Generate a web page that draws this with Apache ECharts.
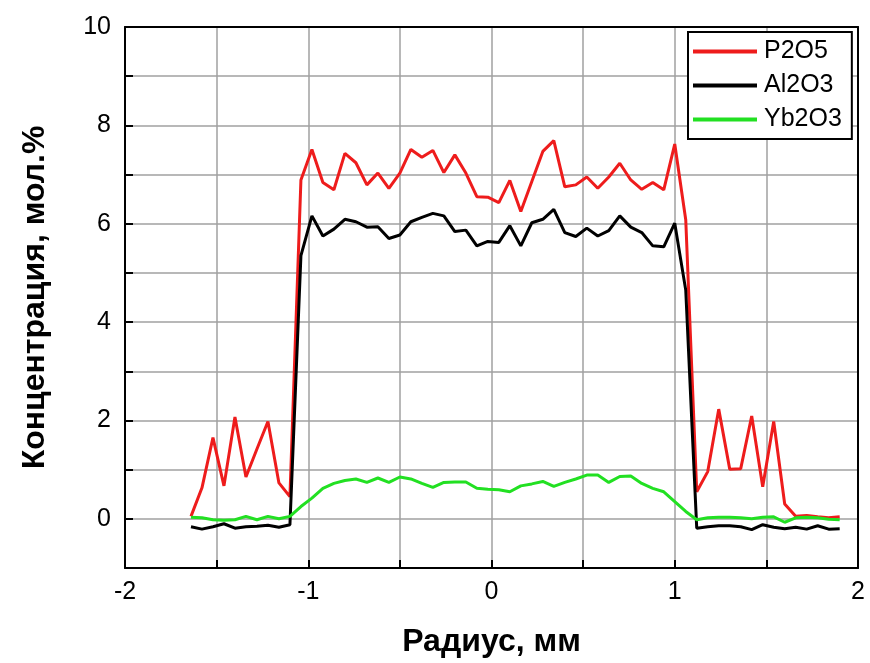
<!DOCTYPE html>
<html>
<head>
<meta charset="utf-8">
<title>Концентрация по радиусу</title>
<script src="https://cdn.jsdelivr.net/npm/echarts@6/dist/echarts.min.js"></script>
<style>
  html, body { margin: 0; padding: 0; background: #fff; }
  #chart { width: 870px; height: 663px; }
</style>
</head>
<body>
<div id="chart"></div>
<script>
// Radial positions of the measurement points, mm
const radius = [
  -1.64, -1.58, -1.52, -1.46, -1.40, -1.34, -1.28, -1.22, -1.16, -1.10,
  -1.04, -0.98, -0.92, -0.86, -0.80, -0.74, -0.68, -0.62, -0.56, -0.50,
  -0.44, -0.38, -0.32, -0.26, -0.20, -0.14, -0.08, -0.02, 0.04, 0.10,
  0.16, 0.22, 0.28, 0.34, 0.40, 0.46, 0.52, 0.58, 0.64, 0.70,
  0.76, 0.82, 0.88, 0.94, 1.00, 1.06, 1.12, 1.18, 1.24, 1.30,
  1.36, 1.42, 1.48, 1.54, 1.60, 1.66, 1.72, 1.78, 1.84, 1.90
];

// Concentrations, mol.%
const p2o5 = [
  0.05, 0.63, 1.65, 0.67, 2.07, 0.85, 1.42, 1.98, 0.73, 0.45,
  6.89, 7.51, 6.84, 6.69, 7.43, 7.24, 6.79, 7.03, 6.72, 7.03,
  7.51, 7.35, 7.49, 7.04, 7.40, 7.03, 6.55, 6.54, 6.43, 6.88,
  6.25, 6.86, 7.47, 7.69, 6.75, 6.79, 6.95, 6.72, 6.95, 7.23,
  6.89, 6.70, 6.84, 6.69, 7.62, 6.08, 0.55, 0.96, 2.23, 1.01,
  1.02, 2.09, 0.65, 1.98, 0.30, 0.05, 0.07, 0.04, 0.02, 0.04
];

const al2o3 = [
  -0.16, -0.21, -0.16, -0.10, -0.19, -0.16, -0.15, -0.13, -0.17, -0.12,
  5.35, 6.16, 5.75, 5.89, 6.09, 6.04, 5.93, 5.94, 5.70, 5.77,
  6.04, 6.13, 6.21, 6.16, 5.84, 5.87, 5.55, 5.64, 5.62, 5.96,
  5.55, 6.02, 6.09, 6.29, 5.82, 5.74, 5.91, 5.75, 5.86, 6.16,
  5.93, 5.82, 5.55, 5.53, 6.01, 4.65, -0.19, -0.16, -0.14, -0.14,
  -0.16, -0.22, -0.12, -0.17, -0.20, -0.17, -0.21, -0.14, -0.21, -0.20
];

const yb2o3 = [
  0.03, 0.02, -0.02, -0.03, -0.02, 0.05, -0.02, 0.05, 0.00, 0.05,
  0.25, 0.42, 0.62, 0.72, 0.78, 0.81, 0.74, 0.83, 0.74, 0.85,
  0.81, 0.72, 0.64, 0.74, 0.75, 0.75, 0.62, 0.60, 0.59, 0.55,
  0.67, 0.71, 0.76, 0.66, 0.74, 0.81, 0.89, 0.89, 0.74, 0.86,
  0.87, 0.72, 0.62, 0.55, 0.35, 0.15, -0.02, 0.02, 0.03, 0.03,
  0.02, 0.00, 0.03, 0.04, -0.07, 0.02, 0.03, 0.02, -0.01, -0.02
];

const seriesNames = ['P2O5', 'Al2O3', 'Yb2O3'];
const seriesColors = ['#ee1c1c', '#000000', '#22e022'];
const seriesValues = [p2o5, al2o3, yb2o3];

const FONT = '"Liberation Sans", Arial, Helvetica, sans-serif';

const chart = echarts.init(document.getElementById('chart'), null, { renderer: 'canvas' });

// Box frame: axis lines stay on the plot edges instead of crossing at zero
const frameLine = { show: true, onZero: false, lineStyle: { color: '#000', width: 2 } };
const gridLine = { show: true, lineStyle: { color: '#a0a0a0', width: 1.5 } };
const inTick = { show: true, inside: true, length: 8, lineStyle: { color: '#000', width: 2 } };

const option = {
  backgroundColor: '#fff',
  animation: false,
  grid: { left: 125, right: 12, top: 27, bottom: 95, containLabel: false },
  legend: {
    orient: 'vertical',
    left: 688,
    top: 32,
    data: seriesNames,
    icon: 'rect',
    itemWidth: 64,
    itemHeight: 4,
    itemGap: 9,
    padding: [7, 10, 7, 5],
    borderColor: '#000',
    borderWidth: 2,
    backgroundColor: '#fff',
    textStyle: { fontFamily: FONT, fontSize: 25, color: '#000', padding: [0, 0, 0, 2] }
  },
  xAxis: [
    {
      type: 'value',
      min: -2,
      max: 2,
      interval: 0.5,
      name: 'Радиус, мм',
      nameLocation: 'middle',
      nameGap: 58,
      nameTextStyle: { fontFamily: FONT, fontSize: 32, fontWeight: 'bold', color: '#000' },
      axisLine: frameLine,
      axisTick: inTick,
      splitLine: gridLine,
      axisLabel: {
        margin: 12,
        fontFamily: FONT,
        fontSize: 25,
        color: '#000',
        formatter: v => (Number.isInteger(v) ? String(v) : '')
      }
    },
    {
      type: 'value',
      position: 'top',
      min: -2,
      max: 2,
      axisLine: frameLine,
      axisTick: { show: false },
      axisLabel: { show: false },
      splitLine: { show: false }
    }
  ],
  yAxis: [
    {
      type: 'value',
      min: -1,
      max: 10,
      interval: 1,
      name: 'Концентрация, мол.%',
      nameLocation: 'middle',
      nameGap: 74,
      nameTextStyle: { fontFamily: FONT, fontSize: 32, fontWeight: 'bold', color: '#000' },
      axisLine: frameLine,
      axisTick: inTick,
      splitLine: gridLine,
      axisLabel: {
        margin: 14,
        fontFamily: FONT,
        fontSize: 25,
        color: '#000',
        formatter: v => (v >= 0 && v % 2 === 0 ? String(v) : '')
      }
    },
    {
      type: 'value',
      position: 'right',
      min: -1,
      max: 10,
      axisLine: frameLine,
      axisTick: { show: false },
      axisLabel: { show: false },
      splitLine: { show: false }
    }
  ],
  series: seriesNames.map((name, k) => ({
    name,
    type: 'line',
    xAxisIndex: 0,
    yAxisIndex: 0,
    data: radius.map((r, i) => [r, seriesValues[k][i]]),
    showSymbol: false,
    symbol: 'none',
    color: seriesColors[k],
    lineStyle: { color: seriesColors[k], width: 3 },
    z: 2 + k
  }))
};

chart.setOption(option);
</script>
</body>
</html>
